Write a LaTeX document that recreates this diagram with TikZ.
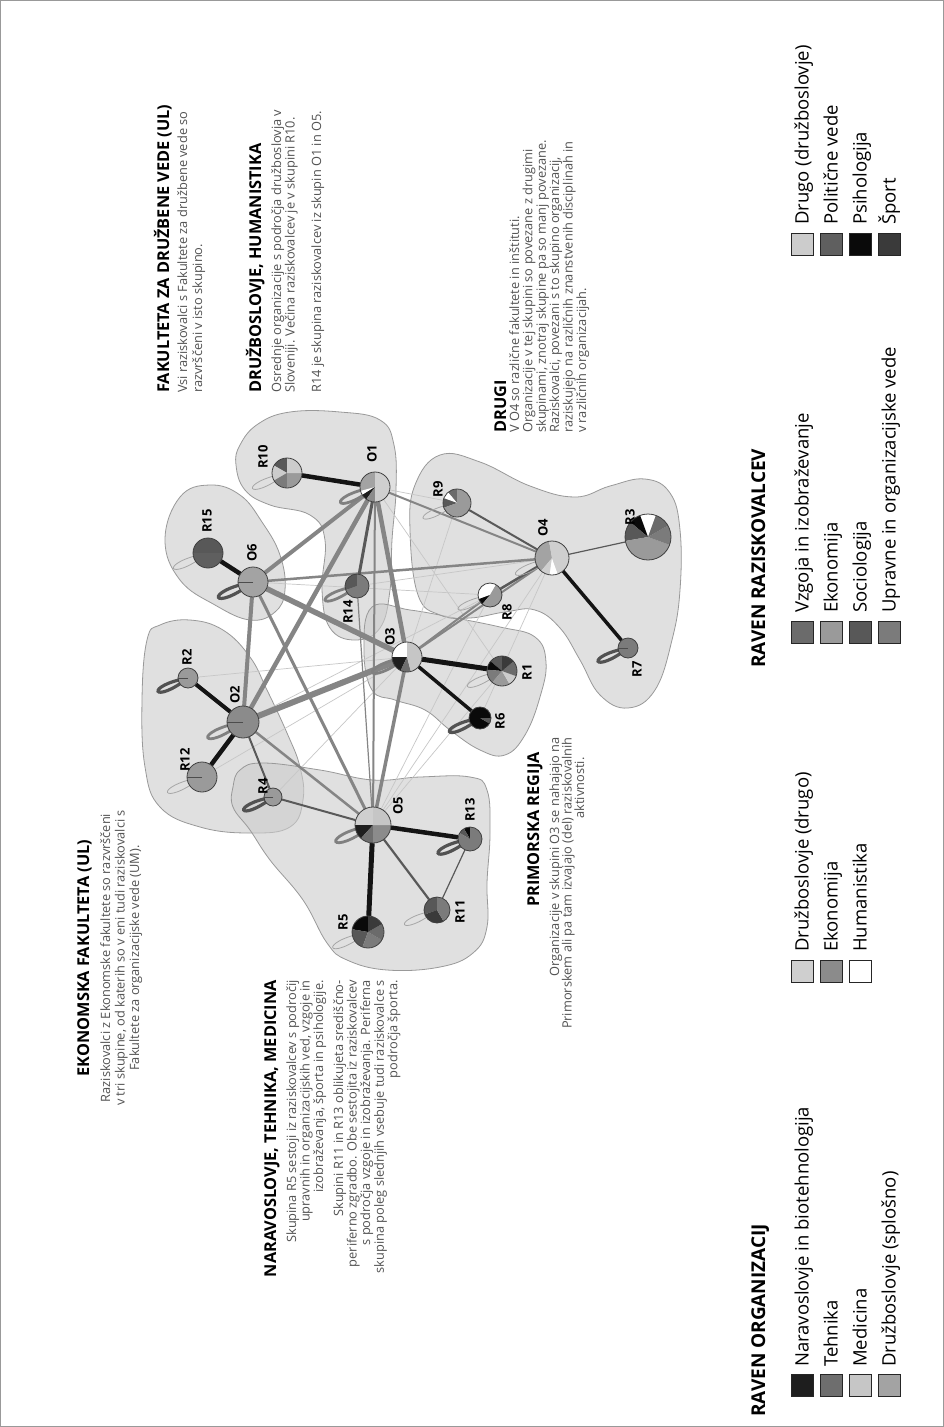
\documentclass[tikz,border=0pt]{standalone}
\usepackage{fontspec}
\setmainfont{Open Sans}
\pgfdeclarelayer{bgw}
\pgfdeclarelayer{hull}
\pgfdeclarelayer{edges}
\pgfsetlayers{bgw,hull,edges,main}
\definecolor{oNar}{HTML}{1E1E1E}
\definecolor{oTeh}{HTML}{6E6E6E}
\definecolor{oMed}{HTML}{C6C6C6}
\definecolor{oDrS}{HTML}{A3A3A3}
\definecolor{oDrD}{HTML}{CFCFCF}
\definecolor{oEko}{HTML}{8B8B8B}
\definecolor{oHum}{HTML}{FFFFFF}
\definecolor{rVzg}{HTML}{6B6B6B}
\definecolor{rEko}{HTML}{9A9A9A}
\definecolor{rSoc}{HTML}{585858}
\definecolor{rUpr}{HTML}{7B7B7B}
\definecolor{rDru}{HTML}{CCCCCC}
\definecolor{rPol}{HTML}{5F5F5F}
\definecolor{rPsi}{HTML}{0A0A0A}
\definecolor{rSpo}{HTML}{3A3A3A}
\tikzset{
  hdr/.style={rotate=90, inner sep=0pt, font=\fontsize{16.3}{18}\selectfont\bfseries, text=black},
  body/.style={rotate=90, inner sep=0pt, font=\fontsize{12.8}{14}\selectfont, text=black!68},
  lbl/.style={rotate=90, inner sep=0pt, font=\fontsize{13}{13}\selectfont\bfseries},
  leghdr/.style={rotate=90, inner sep=0pt, anchor=base west, font=\fontsize{19}{20}\selectfont\bfseries},
  legtxt/.style={rotate=90, inner sep=0pt, anchor=base west, font=\fontsize{18.5}{20}\selectfont},
  legbox/.style={draw=black!85, line width=1.8pt, minimum size=22pt, inner sep=0pt},
  hullst/.style={fill=black!20, fill opacity=0.6, draw=black!40, line width=0.8pt},
  nodeline/.style={draw=black!75, line width=0.8pt},
  tick/.style={draw=black!70, line width=0.8pt},
  blk/.style={draw=black!92, line width=#1pt},
  dk/.style={draw=black!65, line width=#1pt},
  org/.style={draw=black!48, line width=#1pt},
  faint/.style={draw=black!22, line width=0.7pt},
  lpdark/.style={draw=black!68, line width=3.2pt},
  lpmed/.style={draw=black!50, line width=2.8pt},
  lplight/.style={draw=black!35, line width=0.8pt}
}
\newcommand\pienode[5]{%
  \node[circle,inner sep=0pt,minimum size=#4*2pt] (#1) at (#2,-#3) {};
  \foreach \aA/\aB/\aC in {#5}{\fill[fill=\aC] (#1.center) -- ++(\aA:#4pt) arc[start angle=\aA,end angle=\aB,radius=#4pt] -- cycle;}
  \draw[nodeline] (#1.center) circle[radius=#4pt];
}
\newcommand\lp[3]{\draw[#1] (#2.center) .. controls +(190:#3pt) and +(218:#3pt) .. (#2.center);}
\newcommand\tlines[6]{%
  \foreach \tline [count=\kk from 0] in {#6}{\node[body,anchor=#2] (#1\kk) at ({#3+\kk*#5},{-#4}) {\tline};}}
\newcommand\legitem[6]{%
  \node[legbox,fill=#2] (#1) at (#3,-#4) {};
  \node[legtxt] (#1t) at (#3+6,-#5) {#6};}
\begin{document}
\begin{tikzpicture}[x=1pt,y=1pt]
\useasboundingbox (0,0) rectangle (944,-1427);
\begin{pgfonlayer}{bgw}
\fill[white] (0,0) rectangle (944,-1427);
\draw[black!40,line width=1pt] (0.5,-0.5) rectangle (943.5,-1426.5);
\end{pgfonlayer}

% ---------- hulls
\begin{pgfonlayer}{hull}
\path[hullst] plot[smooth cycle, tension=0.7] coordinates {(165,-540) (180,-497) (210,-485) (240,-495) (262,-522) (280,-555) (285,-590) (275,-612) (250,-620) (215,-605) (180,-580)};
\path[hullst] plot[smooth cycle, tension=0.7] coordinates {(240,-445) (258,-424) (290,-412) (340,-412) (380,-420) (394,-445) (396,-490) (392,-540) (390,-590) (380,-628) (355,-640) (330,-628) (322,-590) (325,-540) (310,-515) (270,-505) (245,-490) (236,-465)};
\path[hullst] plot[smooth cycle, tension=0.7] coordinates {(147,-640) (160,-625) (190,-620) (223,-630) (250,-657) (267,-690) (287,-733) (300,-767) (303,-800) (290,-827) (250,-833) (200,-827) (160,-807) (145,-767) (142,-700)};
\path[hullst] plot[smooth cycle, tension=0.7] coordinates {(233,-787) (240,-770) (263,-763) (320,-770) (373,-780) (420,-777) (470,-777) (487,-790) (490,-833) (487,-883) (487,-927) (473,-953) (440,-967) (387,-970) (347,-960) (327,-943) (303,-900) (270,-860) (250,-830) (233,-807)};
\path[hullst] plot[smooth cycle, tension=0.7] coordinates {(372,-607) (410,-610) (450,-617) (500,-627) (535,-637) (546,-662) (540,-697) (525,-735) (505,-755) (480,-750) (450,-730) (425,-710) (395,-700) (372,-690) (364,-650)};
\path[hullst] plot[smooth cycle, tension=0.7] coordinates {(410,-530) (415,-485) (440,-455) (480,-462) (530,-486) (575,-497) (610,-486) (645,-479) (670,-493) (680,-530) (680,-590) (672,-640) (655,-690) (628,-708) (600,-695) (580,-660) (560,-628) (535,-610) (505,-612) (470,-618) (440,-615) (418,-595)};
\end{pgfonlayer}

% ---------- pie nodes
\pienode{O1}{375}{487}{15}{90/195/oDrS,195/212/oHum,212/235/oNar,235/270/oEko,270/450/oDrD}
\pienode{O2}{243}{722}{16}{0/360/oEko}
\pienode{O3}{407}{657}{15}{90/180/oHum,180/245/oNar,245/285/oTeh,285/450/oMed}
\pienode{O4}{552}{558}{17}{100/230/oDrS,230/262/oDrD,262/290/oHum,290/460/oDrD}
\pienode{O5}{373}{825}{18}{90/180/oDrD,180/228/oNar,228/270/oTeh,270/360/oEko,360/450/oMed}
\pienode{O6}{253}{582}{15}{0/360/oDrS}
\pienode{R1}{502}{671}{15}{90/140/rSoc,140/175/rPsi,175/230/rUpr,230/300/rEko,300/340/rDru,340/400/rVzg,400/450/rSpo}
\pienode{R2}{188}{678}{10}{0/360/rEko}
\pienode{R3}{648}{537}{23}{70/110/white,110/140/rPsi,140/190/rSoc,190/340/rEko,340/390/rUpr,390/430/rVzg}
\pienode{R4}{273}{797}{9}{0/360/rEko}
\pienode{R5}{368}{932}{16}{90/170/rPsi,170/250/rSoc,250/330/rUpr,330/390/rVzg,390/450/rSpo}
\pienode{R6}{480}{718}{11}{0/330/rPsi,330/360/rSoc}
\pienode{R7}{628}{648}{10}{0/360/rUpr}
\pienode{R8}{490}{595}{12}{60/200/white,200/230/rPsi,230/420/rEko}
\pienode{R9}{457}{503}{14}{90/130/rVzg,130/160/white,160/200/rSoc,200/450/rEko}
\pienode{R10}{287}{473}{15}{90/150/rSoc,150/210/rDru,210/270/rUpr,270/360/rEko,360/450/rDru}
\pienode{R11}{437}{910}{13}{90/200/rSoc,200/300/rSpo,300/450/rUpr}
\pienode{R12}{202}{777}{15}{0/360/rEko}
\pienode{R13}{470}{839}{12}{90/120/rPsi,120/150/rSoc,150/450/rUpr}
\pienode{R14}{357}{586}{12}{90/200/rSoc,200/450/rUpr}
\pienode{R15}{208}{553}{15}{0/180/rSoc,180/360/rPol}
\draw[tick] (O2.center) -- ++(180:16pt);
\draw[tick] (O6.center) -- ++(180:15pt);
\draw[tick] (R2.center) -- ++(180:10pt);
\draw[tick] (R4.center) -- ++(180:9pt);
\draw[tick] (R12.center) -- ++(180:15pt);
\draw[tick] (R7.center) -- ++(180:10pt);

% ---------- node labels
\node[lbl] (lO1) at (372,-454) {O1};
\node[lbl] (lO2) at (235,-695) {O2};
\node[lbl] (lO3) at (390,-637) {O3};
\node[lbl] (lO4) at (543,-528) {O4};
\node[lbl] (lO5) at (398,-806) {O5};
\node[lbl] (lO6) at (252,-553) {O6};
\node[lbl] (lR1) at (527,-672) {R1};
\node[lbl] (lR2) at (187,-657) {R2};
\node[lbl] (lR3) at (630,-517) {R3};
\node[lbl] (lR4) at (263,-786) {R4};
\node[lbl] (lR5) at (343,-922) {R5};
\node[lbl] (lR6) at (500,-721) {R6};
\node[lbl] (lR7) at (637,-669) {R7};
\node[lbl] (lR8) at (507,-612) {R8};
\node[lbl] (lR9) at (438,-489) {R9};
\node[lbl] (lR10) at (263,-457) {R10};
\node[lbl] (lR11) at (460,-912) {R11};
\node[lbl] (lR12) at (185,-760) {R12};
\node[lbl] (lR13) at (470,-810) {R13};
\node[lbl] (lR14) at (348,-612) {R14};
\node[lbl] (lR15) at (207,-521) {R15};

% ---------- edges and loops
\begin{pgfonlayer}{edges}
\foreach \u/\v in {R2/O3, O2/R8, R4/O3, O5/R1, O5/O4, O5/R8, O1/R9, O1/R1, O6/R8, O3/R9, R14/O4, R6/O4, R12/O3}
  \draw[faint] (\u) -- (\v);
\draw[org=1.2] (O5) -- (R14);
\draw[org=2] (O3) -- (R8);
\draw[org=2] (O3) -- (O4);
\draw[org=2] (O1) -- (O4);
\draw[org=2] (O1) -- (O5);
\draw[org=2.5] (O6) -- (O4);
\draw[org=2.5] (O2) -- (O5);
\draw[org=3] (O6) -- (O5);
\draw[org=3.5] (O3) -- (O5);
\draw[org=4] (O1) -- (O6);
\draw[org=4] (O6) -- (O2);
\draw[org=4.5] (O1) -- (O2);
\draw[org=4.5] (O1) -- (O3);
\draw[org=5.5] (O6) -- (O3);
\draw[org=6] (O2) -- (O3);
\draw[dk=1.2] (R11) -- (R13);
\draw[dk=1.2] (O4) -- (R3);
\draw[dk=2.5] (O4) -- (R8);
\draw[dk=2] (O4) -- (R9);
\draw[dk=2] (O2) -- (R4);
\draw[dk=2] (O5) -- (R4);
\draw[dk=2.2] (O5) -- (R11);
\draw[dk=3] (O1) -- (R14);
\draw[blk=4.5] (O1) -- (R10);
\draw[blk=4.5] (O6) -- (R15);
\draw[blk=4] (O2) -- (R2);
\draw[blk=4.5] (O2) -- (R12);
\draw[blk=5] (O3) -- (R1);
\draw[blk=3.5] (O3) -- (R6);
\draw[blk=5] (O5) -- (R5);
\draw[blk=4.5] (O5) -- (R13);
\draw[blk=3.5] (O4) -- (R7);
\lp{lpdark}{R2}{45}
\lp{lpdark}{R4}{44}
\lp{lpdark}{R6}{46}
\lp{lpdark}{R7}{45}
\lp{lpdark}{R13}{48}
\lp{lpdark}{O6}{52}
\lp{lpmed}{O1}{52}
\lp{lpmed}{O2}{53}
\lp{lpmed}{O5}{56}
\lp{lpmed}{R14}{48}
\lp{lpmed}{O3}{52}
\lp{lplight}{R15}{52}
\lp{lplight}{R10}{52}
\lp{lplight}{R12}{52}
\lp{lplight}{R11}{49}
\lp{lplight}{R5}{53}
\lp{lplight}{R9}{51}
\lp{lplight}{O4}{55}
\lp{lplight}{R8}{48}
\lp{lplight}{R1}{52}
\end{pgfonlayer}

% ---------- text blocks
\node[hdr,anchor=base] (hEF) at (89,-958) {EKONOMSKA FAKULTETA (UL)};
\tlines{ef}{base}{110}{958}{14.5}{{Raziskovalci z Ekonomske fakultete so razvrščeni},{v tri skupine, od katerih so v eni tudi raziskovalci s},{Fakultete za organizacijske vede (UM).}}

\node[hdr,anchor=base west] (hFDV) at (169,-393) {FAKULTETA ZA DRUŽBENE VEDE (UL)};
\tlines{fdv}{base west}{187}{393}{15}{{Vsi raziskovalci s Fakultete za družbene vede so},{razvrščeni v isto skupino.}}

\node[hdr,anchor=base west] (hDH) at (261,-393) {DRUŽBOSLOVJE, HUMANISTIKA};
\tlines{dh}{base west}{281}{393}{13.5}{{Osrednje organizacije s področja družboslovja v},{Sloveniji. Večina raziskovalcev je v skupini R10.}}
\tlines{dhb}{base west}{321}{393}{13.5}{{R14 je skupina raziskovalcev iz skupin O1 in O5.}}

\node[hdr,anchor=base west] (hDR) at (506,-433) {DRUGI};
\tlines{dr}{base west}{519}{433}{13.4}{{V O4 so različne fakultete in inštituti.},{Organizacije v tej skupini so povezane z drugimi},{skupinami, znotraj skupine pa so manj povezane.},{Raziskovalci, povezani s to skupino organizacij,},{raziskujejo na različnih znanstvenih disciplinah in},{v različnih organizacijah.}}

\node[hdr,anchor=base east] (hNT) at (276,-980) {NARAVOSLOVJE, TEHNIKA, MEDICINA};
\tlines{nta}{base east}{296}{980}{13.5}{{Skupina R5 sestoji iz raziskovalcev s področij},{upravnih in organizacijskih ved, vzgoje in},{izobraževanja, športa in psihologije.}}
\tlines{ntb}{base east}{343}{980}{13.6}{{Skupini R11 in R13 oblikujeta središčno-},{periferno zgradbo. Obe sestojita iz raziskovalcev},{s področja vzgoje in izobraževanja. Periferna},{skupina poleg slednjih vsebuje tudi raziskovalce s},{področja športa.}}

\node[hdr,anchor=base west] (hPR) at (539,-907) {PRIMORSKA REGIJA};
\tlines{pr}{base east}{559}{737}{12.5}{{Organizacije v skupini O3 se nahajajo na},{Primorskem ali pa tam izvajajo (del) raziskovalnih}}
\tlines{prb}{base}{584}{788}{12.5}{{aktivnosti.}}

% ---------- legend
\node[leghdr] (lgA) at (765,-1417) {RAVEN ORGANIZACIJ};
\legitem{k11}{oNar}{802.5}{1385.5}{1367}{Naravoslovje in biotehnologija}
\legitem{k12}{oTeh}{831.5}{1385.5}{1367}{Tehnika}
\legitem{k13}{oMed}{860.5}{1385.5}{1367}{Medicina}
\legitem{k14}{oDrS}{889.5}{1385.5}{1367}{Družboslovje (splošno)}
\legitem{k21}{oDrD}{802.5}{971.5}{952}{Družboslovje (drugo)}
\legitem{k22}{oEko}{831.5}{971.5}{952}{Ekonomija}
\legitem{k23}{oHum}{860.5}{971.5}{952}{Humanistika}
\node[leghdr] (lgB) at (765,-668) {RAVEN RAZISKOVALCEV};
\legitem{k31}{rVzg}{802.5}{632.5}{613}{Vzgoja in izobraževanje}
\legitem{k32}{rEko}{831.5}{632.5}{613}{Ekonomija}
\legitem{k33}{rSoc}{860.5}{632.5}{613}{Sociologija}
\legitem{k34}{rUpr}{889.5}{632.5}{613}{Upravne in organizacijske vede}
\legitem{k41}{rDru}{802.5}{244.5}{225}{Drugo (družboslovje)}
\legitem{k42}{rPol}{831.5}{244.5}{225}{Politične vede}
\legitem{k43}{rPsi}{860.5}{244.5}{225}{Psihologija}
\legitem{k44}{rSpo}{889.5}{244.5}{225}{Šport}
\end{tikzpicture}
\end{document}
